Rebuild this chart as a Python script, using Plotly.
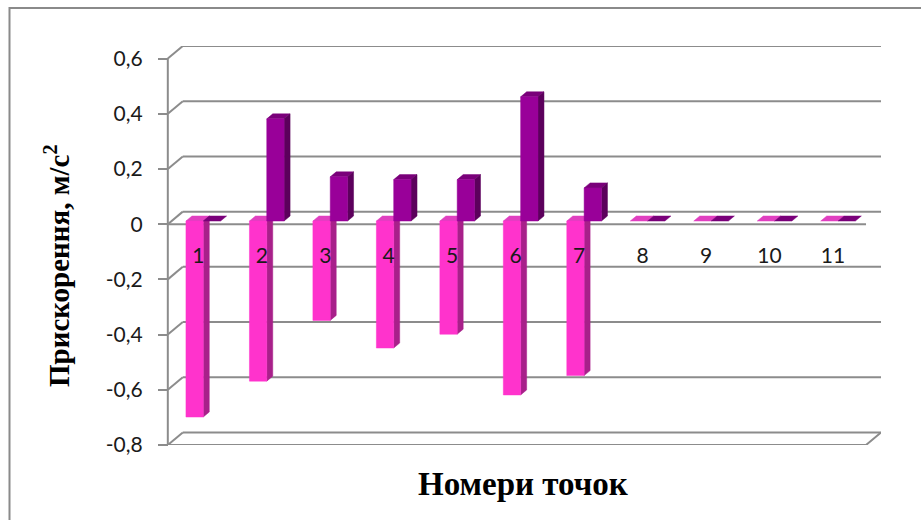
import plotly.graph_objects as go

# ---- data -------------------------------------------------------------
points = list(range(1, 12))
accel_neg = [-0.71, -0.58, -0.36, -0.46, -0.41, -0.63, -0.56, 0.0, 0.0, 0.0, 0.0]
accel_pos = [0.0, 0.37, 0.16, 0.15, 0.15, 0.45, 0.12, 0.0, 0.0, 0.0, 0.0]
y_ticks = [-0.8, -0.6, -0.4, -0.2, 0.0, 0.2, 0.4, 0.6]
y_tick_text = ["-0,8", "-0,6", "-0,4", "-0,2", "0", "0,2", "0,4", "0,6"]
y_title = "Прискорення, м/с<sup>2</sup>"
x_title = "Номери точок"

# ---- pseudo-3D geometry (oblique projection) ------------------------
DX, DY = 0.236, 0.0453      # offset of the back wall, in axis units
F0, F1 = 0.25, 0.65         # depth span occupied by the columns
BAR_W = 0.273               # width of one column, in category units
X0 = -0.06
YMIN, YMAX = y_ticks[0], y_ticks[-1]

GRID = "#8c8c8c"
colors = {
    "neg": dict(front="#ff33cc", side="#a8208a", top="#e040c0"),
    "pos": dict(front="#990099", side="#5c005c", top="#7a007a"),
}


def at(x, y, f):
    return x + f * DX, y + f * DY


def seg_trace(xs, ys, width=2, color=GRID):
    return go.Scatter(x=xs, y=ys, mode="lines", hoverinfo="skip",
                      line=dict(color=color, width=width), showlegend=False)


def poly_trace(polys, color):
    xs, ys = [], []
    for p in polys:
        for (x, y) in p:
            xs.append(x)
            ys.append(y)
        xs.append(p[0][0])
        ys.append(p[0][1])
        xs.append(None)
        ys.append(None)
    return go.Scatter(x=xs, y=ys, mode="lines", fill="toself", fillcolor=color,
                      line=dict(color=color, width=0.5), hoverinfo="skip",
                      showlegend=False)


fig = go.Figure()

n = len(points)

# back wall gridlines and their slanted side-wall connectors
for v in y_ticks:
    bx0, by = at(0, v, 1)
    bx1, _ = at(n, v, 1)
    fig.add_trace(seg_trace([bx0, bx1], [by, by]))
    fig.add_trace(seg_trace([0, bx0], [v, by]))

# floor front edge and right edge
fx1, fy1 = at(n, YMIN, 1)
fig.add_trace(seg_trace([0, n, fx1], [YMIN, YMIN, fy1]))
# front vertical axis line
fig.add_trace(seg_trace([0, 0], [YMIN, YMAX], width=2))
# category axis line at zero
fig.add_trace(seg_trace([0, n], [0, 0]))


def column_faces(values, offset):
    tops, sides, fronts = [], [], []
    for i, v in enumerate(values):
        c = i + 0.5
        xl = c + offset
        xr = xl + BAR_W
        lo, hi = min(0.0, v), max(0.0, v)
        tops.append([at(xl, hi, F0), at(xr, hi, F0), at(xr, hi, F1), at(xl, hi, F1)])
        if hi > lo:
            sides.append([at(xr, lo, F0), at(xr, hi, F0), at(xr, hi, F1), at(xr, lo, F1)])
            fronts.append([at(xl, lo, F0), at(xr, lo, F0), at(xr, hi, F0), at(xl, hi, F0)])
    return tops, sides, fronts


for key, vals, off in (("neg", accel_neg, -BAR_W), ("pos", accel_pos, 0.0)):
    tops, sides, fronts = column_faces(vals, off)
    fig.add_trace(poly_trace(tops, colors[key]["top"]))
    fig.add_trace(poly_trace(sides, colors[key]["side"]))
    fig.add_trace(poly_trace(fronts, colors[key]["front"]))

# category labels under the zero line
fig.add_trace(go.Scatter(
    x=[p - 0.52 for p in points], y=[-0.121] * n, mode="text",
    text=[str(p) for p in points], hoverinfo="skip", showlegend=False,
    textfont=dict(family="Lato", size=21, color="#1a1a1a"),
))

span = n + DX - X0
L, R, T, B = 164, 40, 46, 75
W, H = 921, 520
plot_w = W - L - R
plot_h = H - T - B


def px_to_paper_x(px):
    return (px - L) / plot_w


def px_to_paper_y(py):
    return (H - B - py) / plot_h


fig.update_layout(
    width=W, height=H,
    margin=dict(l=L, r=R, t=T, b=B),
    paper_bgcolor="white", plot_bgcolor="white",
    showlegend=False,
    xaxis=dict(range=[X0, n + DX], visible=False, fixedrange=True),
    yaxis=dict(
        range=[YMIN, YMAX + DY], anchor="free", position=(0 - X0) / span,
        tickvals=y_ticks, ticktext=y_tick_text, ticks="outside", ticklen=10,
        tickwidth=2, tickcolor=GRID, ticklabelstandoff=11,
        showgrid=False, zeroline=False, showline=False,
        tickfont=dict(family="Lato", size=21, color="#1a1a1a"),
    ),
    annotations=[
        dict(text="<b>" + y_title + "</b>", xref="paper", yref="paper",
             x=px_to_paper_x(57), y=px_to_paper_y(266), textangle=-90,
             showarrow=False, xanchor="center", yanchor="middle",
             font=dict(family="Liberation Serif", size=29, color="black")),
        dict(text="<b>" + x_title + "</b>", xref="paper", yref="paper",
             x=px_to_paper_x(523), y=px_to_paper_y(484),
             showarrow=False, xanchor="center", yanchor="middle",
             font=dict(family="Liberation Serif", size=33, color="black")),
    ],
    shapes=[
        dict(type="rect", xref="paper", yref="paper",
             x0=px_to_paper_x(9.5), x1=px_to_paper_x(960),
             y0=px_to_paper_y(560), y1=px_to_paper_y(8),
             line=dict(color="#8a8a8a", width=2), fillcolor="rgba(0,0,0,0)"),
    ],
)

fig.write_html("out.html")
